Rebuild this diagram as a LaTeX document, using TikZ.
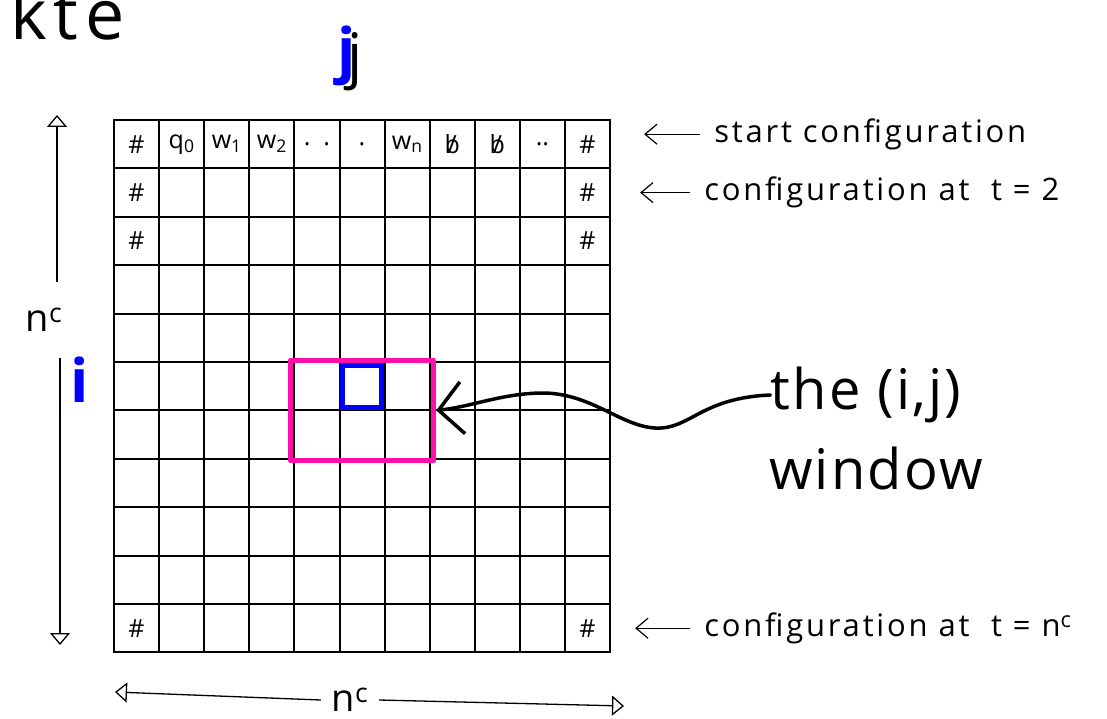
\documentclass[tikz,border=0pt]{standalone}
\usepackage{fontspec}
\setsansfont{Open Sans}
\usetikzlibrary{positioning,fit,arrows.meta}
\definecolor{winpink}{RGB}{255,16,170}
\definecolor{idxblue}{RGB}{0,0,255}
\newcommand{\blanksym}{{\ooalign{b\cr\hidewidth/\hidewidth}}}

\begin{document}
\begin{tikzpicture}[
  x=1pt, y=-1pt,
  cell/.style={
    draw, line width=2pt,
    minimum width=\cw pt, minimum height=\ch pt,
    inner sep=0pt, outer sep=0pt
  },
  sym/.style={font=\sffamily\fontsize{25}{28}\selectfont},
  note/.style={font=\sffamily\fontsize{31}{36}\selectfont\addfontfeatures{LetterSpace=9},
    anchor=west, inner xsep=14pt, inner ysep=0pt},
  notearrow/.style={-{Straight Barb[length=12pt,width=20pt]}, line width=1.2pt},
  dimarrow/.style={-{Triangle[open,length=12pt,width=20pt]}, line width=1.3pt},
  dimlbl/.style={font=\sffamily\fontsize{38}{42}\selectfont, inner sep=0pt},
  window/.style={draw=winpink, line width=5pt, inner sep=2pt, line join=round},
  idx/.style={text=idxblue, font=\sffamily\bfseries\fontsize{60}{66}\selectfont},
  big/.style={font=\sffamily\fontsize{56}{62}\selectfont\addfontfeatures{LetterSpace=4}, inner sep=0pt},
  curvearrow/.style={-{Straight Barb[length=24pt,width=52pt]}, line width=3.5pt, line cap=round}
]
\def\cw{45.1} % cell width
\def\ch{48.4} % cell height

\useasboundingbox (0,0) rectangle (1107,719);
\clip (0,0) rectangle (1107,719);

% --- Heading (cut off) ---
\node[font=\sffamily\fontsize{70}{76}\selectfont\addfontfeatures{LetterSpace=10},
  anchor=base west, inner sep=0pt] (kte) at (10,40) {kte};

% --- Tableau ---
\foreach \r in {1,...,11} {
  \foreach \c in {1,...,11} {
    \node[cell] (c\r-\c) at ({114+(\c-0.5)*\cw},{120+(\r-0.5)*\ch}) {};
  }
}

% first row: start configuration
\foreach \s [count=\c] in {\#, q\textsubscript{0}, w\textsubscript{1}, w\textsubscript{2}, {.\ \ .}, ., w\textsubscript{n}, \blanksym, \blanksym, .., \#} {
  \node[sym] (s\c) at (c1-\c) {\s};
}

% border symbols
\foreach \r in {2,3,11} {
  \node[sym] (hl\r) at (c\r-1) {\#};
  \node[sym] (hr\r) at (c\r-11) {\#};
}

% --- Window ---
\node[window, fit=(c6-5)(c7-7), inner xsep=4pt] (win) {};
\node[draw=idxblue, line width=5pt, fit=(c6-6), inner sep=-3pt] (cellij) {};

% --- Indices ---
\node[font=\sffamily\fontsize{60}{66}\selectfont] (jtrace) at (355,62) {j};
\node[idx] (jidx) at (347,56) {j};
\node[idx] (iidx) at (80,380) {i};

% --- Dimensions ---
\node[dimlbl, minimum height=76pt] (nv) at (44,320) {n\textsuperscript{c}};
\coordinate (vtop) at (57,115);
\coordinate (vbot) at (60,645);
\draw[dimarrow] (nv.north -| vtop) -- (vtop);
\draw[dimarrow] (nv.south -| vbot) -- (vbot);

\node[dimlbl, minimum width=58pt] (nh) at (350,700) {n\textsuperscript{c}};
\coordinate (hleft) at (115,692);
\coordinate (hright) at (624,706);
\draw[dimarrow] (nh.west) -- (hleft);
\draw[dimarrow] (nh.east) -- (hright);

% --- Row notes ---
\node[note] (lstart) at ([xshift=90pt,yshift=10pt]c1-11.east) {start configuration};
\coordinate (tip1) at ([xshift=34pt,yshift=10pt]c1-11.east);
\draw[notearrow] (lstart.west) -- (tip1);

\node[note] (ltwo) at ([xshift=80pt]c2-11.east) {configuration at \ t = 2};
\coordinate (tip2) at ([xshift=30pt]c2-11.east);
\draw[notearrow] (ltwo.west) -- (tip2);

\node[note] (lnc) at ([xshift=80pt]c11-11.east) {configuration at \ t = n\textsuperscript{c}};
\coordinate (tip3) at ([xshift=25pt]c11-11.east);
\draw[notearrow] (lnc.west) -- (tip3);

% --- Window label ---
\node[big] (lthe) at (866,395) {the (i,j)};
\node[big] (lwin) at (876,468) {window};
\draw[curvearrow] (lthe.west) .. controls (700,398) and (690,430) .. (655,428)
  .. controls (620,426) and (590,392) .. (540,393)
  .. controls (500,394) and (470,407) .. (win.east);

\end{tikzpicture}
\end{document}
